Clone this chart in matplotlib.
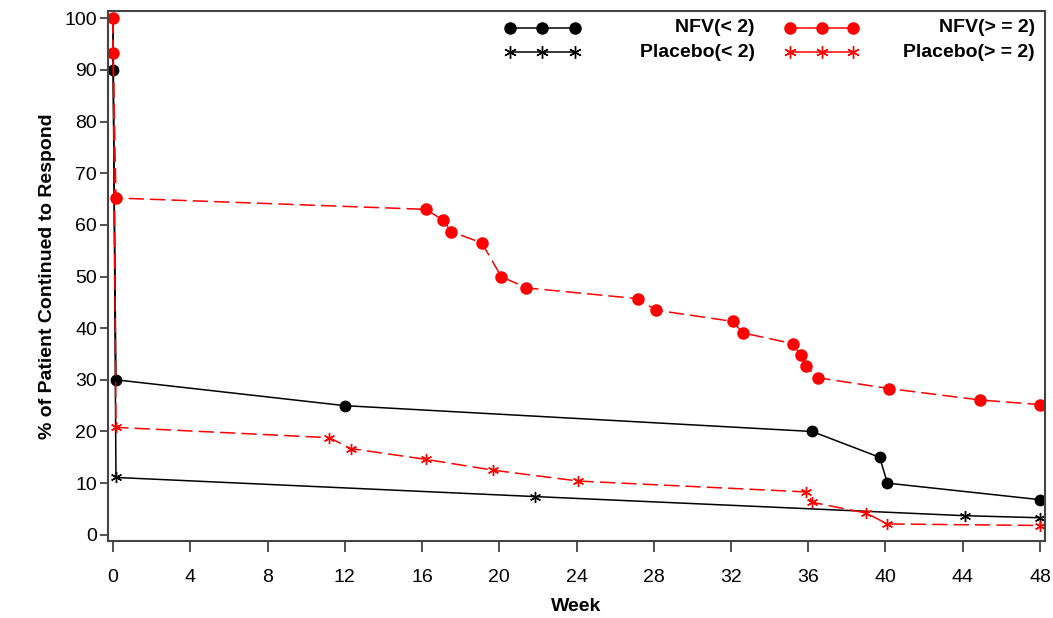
import numpy as np
import matplotlib
matplotlib.use("Agg")
import matplotlib.pyplot as plt

plt.rcParams['font.family'] = ['Liberation Sans', 'DejaVu Sans']

# Kaplan-Meier style curves
nfv_lt2_week = [0, 0, 0.15, 12.0, 36.2, 39.7, 40.1, 48.0]
nfv_lt2_pct = [100, 90, 30, 25, 20, 15, 10, 6.8]

nfv_ge2_week = [0, 0, 0.15, 16.2, 17.1, 17.5, 19.1, 20.1, 21.4, 27.2, 28.1,
                32.1, 32.6, 35.2, 35.6, 35.9, 36.5, 40.2, 44.9, 48.0]
nfv_ge2_pct = [100, 93.3, 65.2, 63.0, 60.9, 58.7, 56.5, 50.0, 47.8, 45.7, 43.5,
               41.3, 39.1, 37.0, 34.8, 32.6, 30.4, 28.3, 26.1, 25.2]

pbo_lt2_week = [0, 0.15, 21.85, 44.1, 48.0]
pbo_lt2_pct = [100, 11.1, 7.4, 3.7, 3.3]

pbo_ge2_week = [0, 0.15, 11.2, 12.3, 16.2, 19.7, 24.1, 35.9, 36.2, 39.0, 40.1, 48.0]
pbo_ge2_pct = [100, 20.8, 18.8, 16.7, 14.6, 12.5, 10.4, 8.3, 6.3, 4.2, 2.1, 1.8]

labels = ["NFV(< 2)", "Placebo(< 2)", "NFV(> = 2)", "Placebo(> = 2)"]
x_ticks = list(range(0, 49, 4))
y_ticks = list(range(0, 101, 10))

fig = plt.figure(figsize=(10.53, 6.18), dpi=100)
ax = fig.add_axes([0.1026, 0.1246, 0.8898, 0.8576])

star = (6, 2, 0)
# black groups first, red on top
ax.plot(pbo_lt2_week, pbo_lt2_pct, color='black', lw=1.1, marker=star, ms=8,
        mew=1.0, markevery=list(range(1, len(pbo_lt2_week))))
ax.plot(nfv_lt2_week, nfv_lt2_pct, color='black', lw=1.1, marker='o', ms=7.5,
        markevery=list(range(1, len(nfv_lt2_week))))
ax.plot(pbo_ge2_week, pbo_ge2_pct, color='red', lw=1.1, ls=(0, (10, 4)), marker=star,
        ms=8, mew=1.0, markevery=list(range(1, len(pbo_ge2_week))))
ax.plot(nfv_ge2_week, nfv_ge2_pct, color='red', lw=1.1, ls=(0, (10, 4)), marker='o',
        ms=8, mfc='red', mec='red')

ax.set_xlim(-0.26, 48.26)
ax.set_ylim(-1.2, 101.4)
ax.set_xticks(x_ticks)
ax.set_yticks(y_ticks)
ax.tick_params(axis='x', length=8, width=1.2, pad=12, labelsize=14, color='#333333')
ax.tick_params(axis='y', length=6, width=1.2, pad=2, labelsize=14, color='#333333')
for s in ax.spines.values():
    s.set_color('#444444')
    s.set_linewidth(1.5)

ax.set_xlabel("Week", fontsize=14, fontweight='bold', labelpad=9)
ax.set_ylabel("% of Patient Continued to Respond", fontsize=14, fontweight='bold', labelpad=6)

# legend drawn by hand to get the right aligned labels
rows = [0.968, 0.922]
cols = [(0.429, 0.498, 0.690), (0.728, 0.795, 0.989)]
items = [('black', 'o', 0, 0), ('black', star, 0, 1), ('red', 'o', 1, 0), ('red', star, 1, 1)]
for (col, mk, c, r), lab in zip(items, labels):
    x0, x1, xt = cols[c]
    y = rows[r]
    ax.plot([x0, x1], [y, y], color=col, lw=1.1, transform=ax.transAxes, clip_on=False)
    ax.plot([x0, (x0 + x1) / 2, x1], [y, y, y], ls='none', marker=mk, color=col,
            ms=8 if mk == 'o' else 9, mew=1.0, transform=ax.transAxes, clip_on=False)
    ax.text(xt, y, lab, ha='right', va='center', fontsize=14, fontweight='bold',
            transform=ax.transAxes)

fig.savefig("out.png", dpi=100)
